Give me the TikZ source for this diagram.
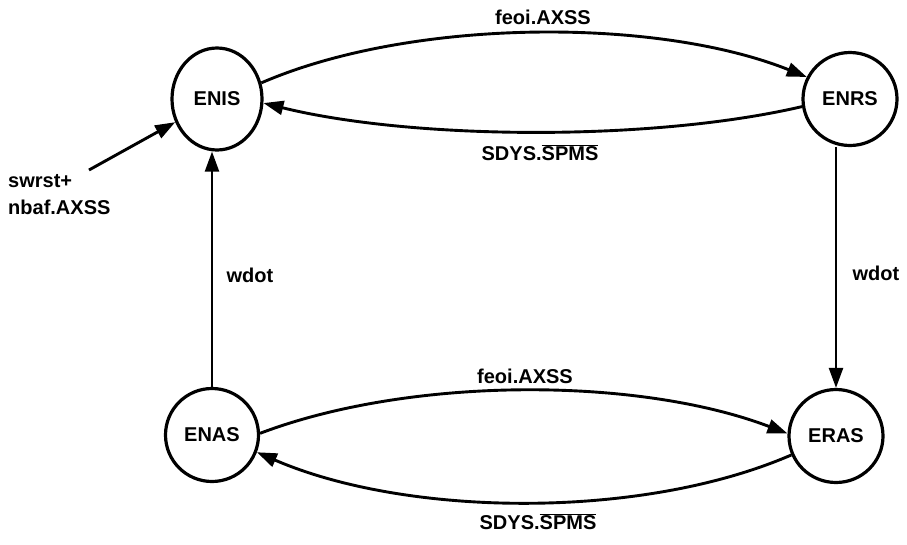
\documentclass[tikz,border=0pt]{standalone}
\usepackage{fontspec}
\setmainfont{Liberation Sans}
\usetikzlibrary{arrows.meta,shapes.geometric}
\newcommand{\myovl}[1]{$\overline{\hbox{#1}}$}
\begin{document}
\begin{tikzpicture}[x=1pt,y=-1pt,
  state/.style={ellipse,draw,line width=3.2pt,inner sep=0pt,minimum width=93pt,minimum height=93pt,font=\fontsize{20}{24}\selectfont\bfseries},
  lbl/.style={font=\fontsize{20}{24}\selectfont\bfseries,inner sep=0pt},
  conn/.style={line width=2.9pt,-{Triangle[length=20pt,width=14pt]}},
  vconn/.style={line width=2.3pt,-{Triangle[length=20pt,width=14pt]}}]
\useasboundingbox (0,0) rectangle (907,544);
\node[state,minimum width=90pt,minimum height=102pt] (ENIS) at (217,99) {ENIS};
\node[state,minimum width=94pt] (ENRS) at (850,99) {ENRS};
\node[state] (ENAS) at (212,435) {ENAS};
\node[state,minimum width=94pt] (ERAS) at (836,436) {ERAS};
\coordinate (in0) at (89,170);
% top pair
\draw[conn] (ENIS.20) .. controls +(150,-65) and +(-150,-60) .. (ENRS.153);
\draw[conn] (ENRS.-171) .. controls +(-150,35) and +(150,37) .. (ENIS.-5);
% bottom pair
\draw[conn] (ENAS.2) .. controls +(150,-57) and +(-150,-57) .. (ERAS.177);
\draw[conn] (ERAS.-157) .. controls +(-150,65) and +(150,65) .. (ENAS.-21);
% verticals
\draw[vconn] (ENAS.north) -- (ENAS.north |- ENIS.south);
\draw[vconn] (ERAS.north |- ENRS.south) -- (ERAS.north);
% incoming
\draw[conn] (in0) -- (ENIS);
% labels
\node[lbl] (l1) at (543,17) {feoi.AXSS};
\node[lbl] (l2) at (540,153) {SDYS.\myovl{SPMS}};
\node[lbl] (l3) at (525,376) {feoi.AXSS};
\node[lbl] (l4) at (538,522) {SDYS.\myovl{SPMS}};
\node[lbl] (l5) at (250,275) {wdot};
\node[lbl] (l6) at (876,273) {wdot};
\node[lbl,anchor=west] (l7) at (8,181) {swrst+};
\node[lbl,anchor=west] (l8) at (8,207) {nbaf.AXSS};
\end{tikzpicture}
\end{document}
